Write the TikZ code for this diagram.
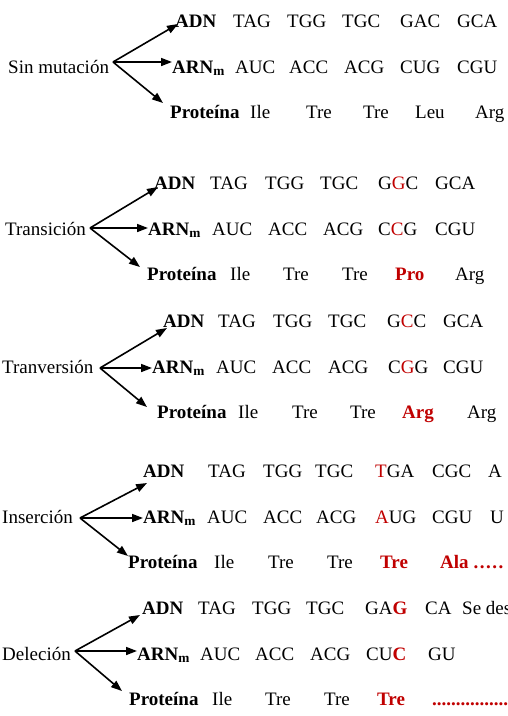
\documentclass[tikz,border=0pt]{standalone}
\usepackage{fontspec}
\setmainfont{Liberation Serif}
\usetikzlibrary{arrows.meta}
\definecolor{mutred}{RGB}{192,0,0}

\begin{document}
\begin{tikzpicture}[x=1pt,y=-1pt,
  txt/.style={anchor=base west,inner sep=0pt,font=\fontsize{19}{19}\selectfont},
  hd/.style={txt,font=\fontsize{19}{19}\selectfont\bfseries},
  mut/.style={hd,text=mutred},
  arr/.style={-{Triangle[length=11pt,width=8pt]},line width=1.6pt}]
\useasboundingbox (0,0) rectangle (508,716);
\clip (0,0) rectangle (508,716);

% Sin mutacion
\node[txt](Lab1) at (8,73){Sin mutación};
\coordinate (F1) at (113,62);
\node[hd](ADN1) at (175,27){ADN};
\node[hd](ARN1) at (172,73){ARN\textsubscript{m}};
\node[hd](Prot1) at (170,118){Proteína};
\foreach \x/\cod [count=\i] in {233/TAG,287/TGG,342/TGC,400/GAC,457/GCA}
  \node[txt](ADN1c\i) at (\x,27){\cod};
\foreach \x/\cod [count=\i] in {235/AUC,289/ACC,344/ACG,400/CUG,457/CGU}
  \node[txt](ARN1c\i) at (\x,73){\cod};
\foreach \x/\cod [count=\i] in {250/Ile,306/Tre,363/Tre,415/Leu,475/Arg}
  \node[txt](Prot1c\i) at (\x,118){\cod};
\draw[arr] (F1) -- ([shift={(3pt,3pt)}]ADN1.base west);
\draw[arr] (F1) -- (F1 -| ARN1.west);
\draw[arr] (F1) -- ([shift={(-7pt,15pt)}]Prot1.base west);

% Transicion
\node[txt](Lab2) at (5,235){Transición};
\coordinate (F2) at (90,228);
\node[hd](ADN2) at (154,189){ADN};
\node[hd](ARN2) at (148,235){ARN\textsubscript{m}};
\node[hd](Prot2) at (147,280){Proteína};
\foreach \x/\cod [count=\i] in {210/TAG,265/TGG,320/TGC,378/G\textcolor{mutred}{G}C,435/GCA}
  \node[txt](ADN2c\i) at (\x,189){\cod};
\foreach \x/\cod [count=\i] in {212/AUC,268/ACC,323/ACG,378/C\textcolor{mutred}{C}G,435/CGU}
  \node[txt](ARN2c\i) at (\x,235){\cod};
\foreach \x/\cod [count=\i] in {230/Ile,283/Tre,342/Tre}
  \node[txt](Prot2c\i) at (\x,280){\cod};
\node[mut](Prot2m) at (395,280){Pro};
\node[txt](Prot2e) at (455,280){Arg};
\draw[arr] (F2) -- ([shift={(4pt,2pt)}]ADN2.base west);
\draw[arr] (F2) -- (F2 -| ARN2.west);
\draw[arr] (F2) -- ([shift={(-7pt,13pt)}]Prot2.base west);

% Tranversion
\node[txt](Lab3) at (2,373){Tranversión};
\coordinate (F3) at (100,368);
\node[hd](ADN3) at (163,327){ADN};
\node[hd](ARN3) at (152,373){ARN\textsubscript{m}};
\node[hd](Prot3) at (157,418){Proteína};
\foreach \x/\cod [count=\i] in {218/TAG,273/TGG,328/TGC,387/G\textcolor{mutred}{C}C,443/GCA}
  \node[txt](ADN3c\i) at (\x,327){\cod};
\foreach \x/\cod [count=\i] in {216/AUC,272/ACC,328/ACG,388/C\textcolor{mutred}{G}G,443/CGU}
  \node[txt](ARN3c\i) at (\x,373){\cod};
\foreach \x/\cod [count=\i] in {238/Ile,292/Tre,350/Tre}
  \node[txt](Prot3c\i) at (\x,418){\cod};
\node[mut](Prot3m) at (402,418){Arg};
\node[txt](Prot3e) at (467,418){Arg};
\draw[arr] (F3) -- ([shift={(4pt,-1pt)}]ADN3.base west);
\draw[arr] (F3) -- (F3 -| ARN3.west);
\draw[arr] (F3) -- ([shift={(-10pt,11pt)}]Prot3.base west);

% Insercion
\node[txt](Lab4) at (2,523){Inserción};
\coordinate (F4) at (80,518);
\node[hd](ADN4) at (143,477){ADN};
\node[hd](ARN4) at (143,523){ARN\textsubscript{m}};
\node[hd](Prot4) at (128,568){Proteína};
\foreach \x/\cod [count=\i] in {208/TAG,263/TGG,315/TGC,375/\textcolor{mutred}{T}GA,432/CGC,488/A}
  \node[txt](ADN4c\i) at (\x,477){\cod};
\foreach \x/\cod [count=\i] in {207/AUC,263/ACC,316/ACG,375/\textcolor{mutred}{A}UG,432/CGU,490/U}
  \node[txt](ARN4c\i) at (\x,523){\cod};
\foreach \x/\cod [count=\i] in {214/Ile,268/Tre,327/Tre}
  \node[txt](Prot4c\i) at (\x,568){\cod};
\node[mut](Prot4m) at (380,568){Tre};
\node[mut](Prot4e) at (440,568){Ala\kern5pt.\kern1.5pt.\kern1.5pt.\kern1.5pt.\kern1.5pt.};
\draw[arr] (F4) -- ([shift={(4pt,-6pt)}]ADN4.base west);
\draw[arr] (F4) -- (F4 -| ARN4.west);
\draw[arr] (F4) -- ([shift={(0pt,12pt)}]Prot4.base west);

% Delecion
\node[txt](Lab5) at (2,660){Deleción};
\coordinate (F5) at (75,651);
\node[hd](ADN5) at (142,614){ADN};
\node[hd](ARN5) at (137,660){ARN\textsubscript{m}};
\node[hd](Prot5) at (129,705){Proteína};
\foreach \x/\cod [count=\i] in {198/TAG,252/TGG,306/TGC,365/GA\textcolor{mutred}{\bfseries G},425/CA,462/Se des}
  \node[txt](ADN5c\i) at (\x,614){\cod};
\foreach \x/\cod [count=\i] in {200/AUC,255/ACC,310/ACG,366/CU\textcolor{mutred}{\bfseries C},428/GU}
  \node[txt](ARN5c\i) at (\x,660){\cod};
\foreach \x/\cod [count=\i] in {212/Ile,265/Tre,324/Tre}
  \node[txt](Prot5c\i) at (\x,705){\cod};
\node[mut](Prot5m) at (377,705){Tre};
\node[mut](Prot5e) at (432,705){..................};
\draw[arr] (F5) -- ([shift={(-2pt,-1pt)}]ADN5.base west);
\draw[arr] (F5) -- (F5 -| ARN5.west);
\draw[arr] (F5) -- ([shift={(-7pt,14pt)}]Prot5.base west);

\end{tikzpicture}
\end{document}
